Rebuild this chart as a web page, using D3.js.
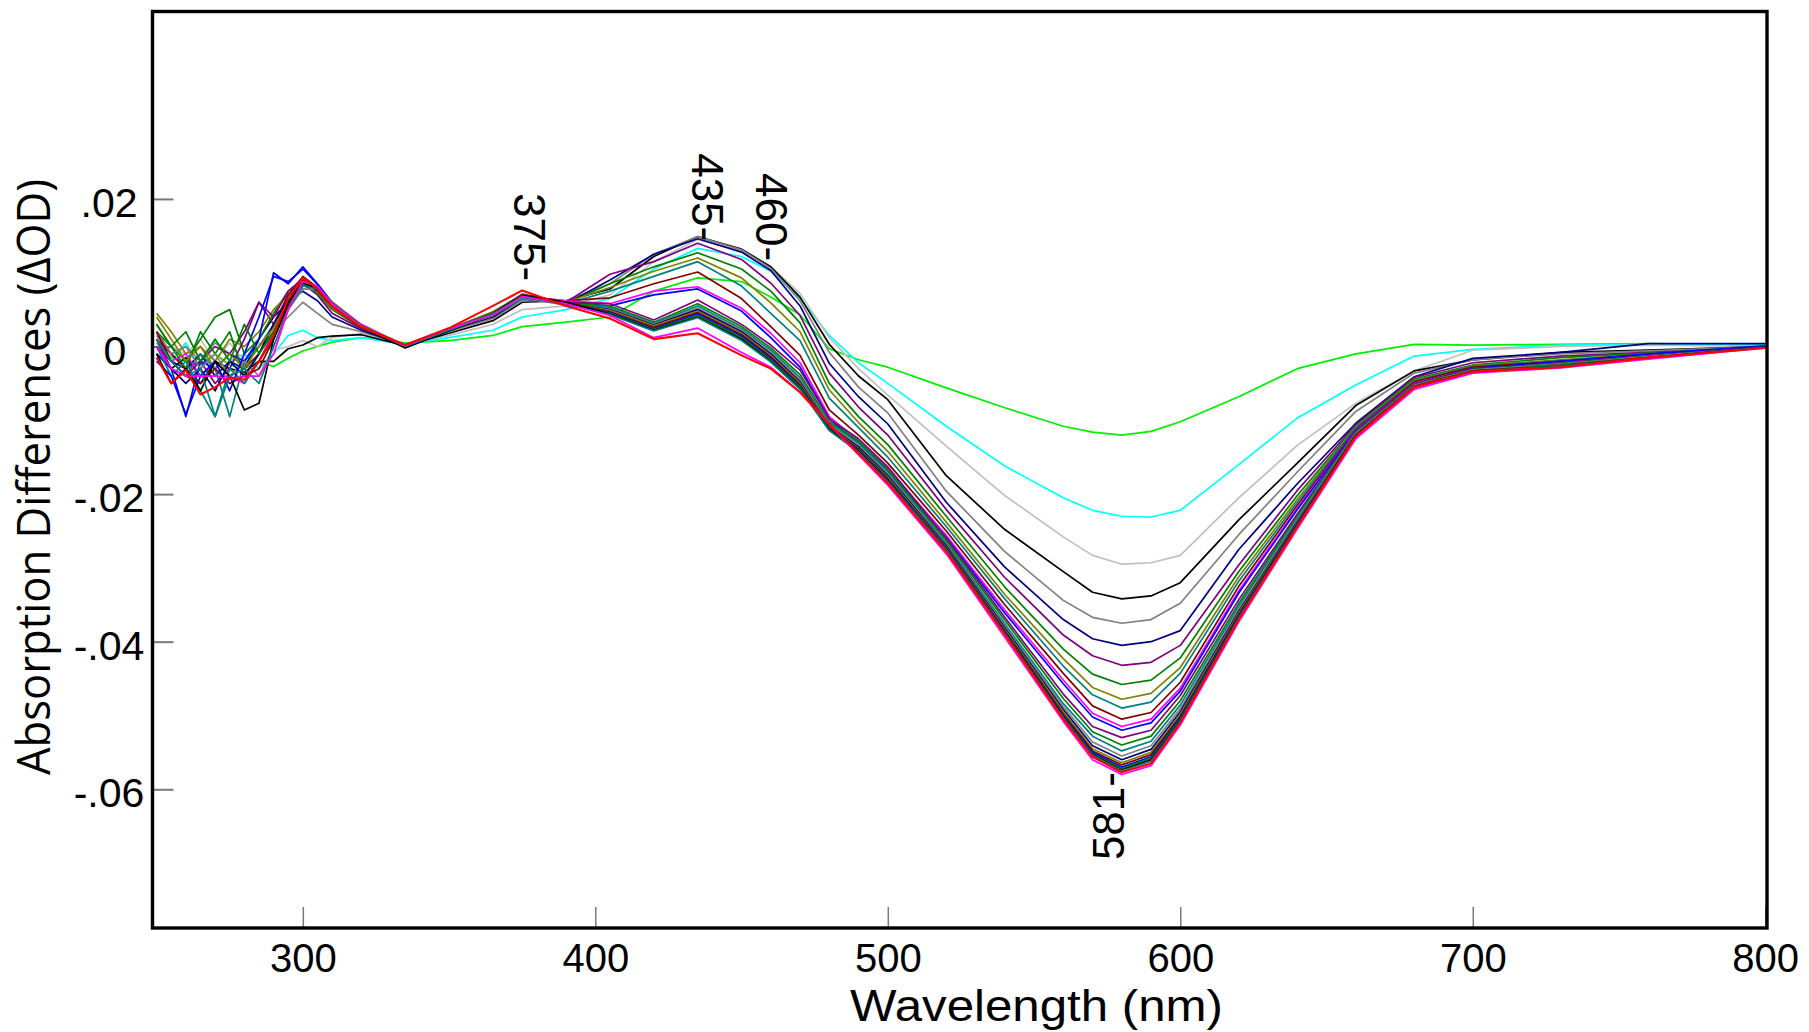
<!DOCTYPE html>
<html><head><meta charset="utf-8">
<script src="https://cdn.jsdelivr.net/npm/d3@7"></script>
<style>html,body{margin:0;padding:0;background:#fff;} svg{display:block;}</style>
</head><body><svg id="chart" width="1809" height="1032"></svg>
<script>
// Wavelength grid (nm)
const wavelengths = [250,255,260,265,270,275,280,285,290,295,300,305,310,320,335,350,365,375,390,405,420,435,450,460,470,480,490,500,520,540,560,570,580,590,600,620,640,660,680,700,730,760,800];

// Absorption differences (ΔOD), one array per spectrum
const s01 = [0.0005,-0.0015,-0.002,-0.0025,-0.001,-0.0025,-0.003,-0.002,-0.0027,-0.0016,-0.0006, 0,0.0006,0.0012,0.0005,0.0008,0.0015,0.0027,0.0033,0.004,0.0075,0.0093,0.0088,0.0067,0.0043,-0.0003,-0.0018,-0.0028, -0.0056,-0.0083,-0.0108,-0.0116,-0.012,-0.0115,-0.0102,-0.0068,-0.003,-0.001,0.0003,0.0002, 0.0003,0.0004,0.0002];
const s02 = [0.001,-0.002,0.0005,-0.003,0.001,-0.002,-0.001,-0.003,-0.001,0.0015,0.0022, 0.0012,0.0008,0.0012,0.0003,0.0012,0.0022,0.004,0.005,0.0065,0.0105,0.0133,0.0122,0.0102,0.0065,0.0015,-0.0022,-0.005, -0.0108,-0.0162,-0.0205,-0.0222,-0.023,-0.0231,-0.0222,-0.016,-0.0097,-0.0052,-0.0013,-0.0004, 0.0002,0.0003,0.0002];
const s03 = [0.002,0,-0.001,0.001,-0.002,0.0005,-0.002,0.0005,-0.0005,0,0.0008, 0,0.0012,0.0018,0.0003,0.0015,0.003,0.005,0.0055,0.007,0.0115,0.0145,0.013,0.0108,0.0072,0.0012,-0.003,-0.0066, -0.0135,-0.0202,-0.0258,-0.0283,-0.0295,-0.0293,-0.0283,-0.0205,-0.0134,-0.0077,-0.0033,-0.0005, 0,0.0002,0];
const s04 = [-0.001,-0.003,-0.0015,-0.004,-0.002,-0.003,-0.0035,-0.002,-0.002,-0.0003,0.0002, 0.0012,0.0014,0.0016,0.0001,0.0018,0.0035,0.006,0.0062,0.0078,0.0122,0.0149,0.0132,0.0108,0.0067,0.0003,-0.004,-0.0072, -0.0175,-0.0248,-0.0305,-0.0333,-0.0342,-0.0338,-0.032,-0.0235,-0.0158,-0.008,-0.0033,-0.0018, -0.0008,-0.0005,0];
const s05 = [0.0015,-0.001,0,-0.002,0.0005,-0.001,-0.0025,0,0.002,0.004,0.006, 0.0045,0.003,0.002,0.0002,0.002,0.0038,0.0062,0.0062,0.0085,0.0125,0.0149,0.0131,0.0106,0.0062,-0.0008,-0.0055,-0.009, -0.0196,-0.0278,-0.0344,-0.0367,-0.0375,-0.037,-0.0348,-0.0255,-0.017,-0.0088,-0.0036,-0.0018, -0.001,-0.0006,0];
const s06 = [0,-0.002,-0.003,-0.001,-0.004,-0.002,-0.003,0.001,0.004,0.006,0.0075, 0.0062,0.004,0.0022,0.0001,0.0022,0.004,0.0065,0.0058,0.009,0.0125,0.0146,0.0128,0.0103,0.0055,-0.0023,-0.0068,-0.0105, -0.0211,-0.0299,-0.037,-0.0396,-0.0405,-0.04,-0.0385,-0.0275,-0.0186,-0.0104,-0.0041,-0.0016, -0.0008,0.0004,0.0004];
const s07 = [0.001,-0.001,-0.003,-0.002,0,-0.001,0.002,0.006,0.003,0.006,0.0085, 0.007,0.0045,0.0024,0.0002,0.0024,0.0045,0.0068,0.006,0.0098,0.0115,0.014,0.0118,0.0086,0.0042,-0.0036,-0.0082,-0.012, -0.0221,-0.0313,-0.0391,-0.0419,-0.0432,-0.0428,-0.0405,-0.0296,-0.0195,-0.0106,-0.0042,-0.0022, -0.0013,-0.0008,-0.0002];
const s08 = [0.002,0,-0.002,0.001,0.004,0.005,-0.001,0.001,0.0045,0.0075,0.009, 0.0072,0.005,0.0025,0.0002,0.0023,0.0045,0.0068,0.0058,0.0085,0.0108,0.0127,0.0105,0.0075,0.0032,-0.005,-0.0095,-0.0133, -0.023,-0.0326,-0.041,-0.0444,-0.0458,-0.0452,-0.0422,-0.0305,-0.0202,-0.0108,-0.0044,-0.0025, -0.0015,-0.0009,-0.0001];
const s09 = [0.0045,0.002,-0.001,0,-0.002,0.001,0,0.002,0.005,0.007,0.0088, 0.0075,0.0052,0.0026,0.0002,0.0022,0.0042,0.0066,0.006,0.008,0.0102,0.012,0.0093,0.0059,0.002,-0.0059,-0.0103,-0.0142, -0.0238,-0.0336,-0.0423,-0.0462,-0.0478,-0.047,-0.0435,-0.0312,-0.0207,-0.0109,-0.0046,-0.0026, -0.0018,-0.001,-0.0001];
const s10 = [0,-0.002,-0.004,-0.001,-0.003,-0.0095,-0.002,0,0.003,0.0065,0.0085, 0.0078,0.0055,0.0027,0.0001,0.0023,0.0043,0.0065,0.0058,0.0075,0.0095,0.0115,0.0082,0.0045,0.0008,-0.007,-0.011,-0.015, -0.0244,-0.0342,-0.0433,-0.0472,-0.049,-0.0482,-0.0443,-0.0318,-0.0211,-0.011,-0.0047,-0.0027, -0.0019,-0.0011,-0.0001];
const s11 = [0.002,-0.001,-0.003,-0.005,-0.002,-0.004,-0.003,-0.001,0.003,0.007,0.0095, 0.008,0.0055,0.0027,0.0002,0.0024,0.0044,0.0068,0.0062,0.0066,0.0085,0.0101,0.0065,0.0027,-0.0012,-0.0086,-0.012,-0.0158, -0.025,-0.035,-0.0443,-0.0487,-0.0505,-0.0496,-0.0455,-0.0325,-0.0215,-0.0112,-0.0048,-0.0028, -0.002,-0.0012,-0.0001];
const s12 = [0.001,-0.002,-0.001,-0.004,-0.004,-0.004,-0.005,-0.002,0.002,0.006,0.0088, 0.008,0.006,0.003,0.0001,0.0024,0.0045,0.0068,0.0062,0.0058,0.0075,0.0081,0.0052,0.0018,-0.0022,-0.0095,-0.0128,-0.0165, -0.0256,-0.0357,-0.0452,-0.0497,-0.0515,-0.0505,-0.0463,-0.0331,-0.0219,-0.0113,-0.005,-0.003, -0.0022,-0.0012,-0.0001];
const s13 = [-0.001,-0.003,-0.0095,-0.002,-0.003,-0.001,-0.002,0.001,0.01,0.0085,0.0108, 0.0085,0.006,0.0028,0,0.0022,0.0044,0.0067,0.006,0.0055,0.007,0.0078,0.0048,0.0012,-0.0028,-0.0098,-0.0131,-0.0168, -0.0259,-0.0361,-0.0457,-0.0502,-0.052,-0.051,-0.0467,-0.0334,-0.0221,-0.0114,-0.0051,-0.003, -0.002,-0.001,0.0001];
const s14 = [0.001,-0.003,-0.004,-0.002,-0.005,-0.003,0.001,0.006,0.004,0.0075,0.0092, 0.0078,0.0055,0.0027,0.0002,0.0024,0.0046,0.007,0.006,0.0058,0.0036,0.0063,0.003,0.0002,-0.0032,-0.0098,-0.0125,-0.0163, -0.026,-0.0367,-0.0471,-0.0515,-0.053,-0.052,-0.0473,-0.0343,-0.0227,-0.0115,-0.0051,-0.0031, -0.0022,-0.0013,0];
const s15 = [0.003,0,-0.003,0.002,-0.001,0.002,-0.004,-0.001,0.002,0.006,0.0085, 0.0082,0.0058,0.0028,0.0001,0.0023,0.0047,0.007,0.0058,0.0055,0.0033,0.0058,0.0027,-0.0002,-0.0038,-0.0102,-0.0128,-0.0167, -0.0263,-0.0371,-0.0477,-0.0522,-0.054,-0.0528,-0.048,-0.0348,-0.023,-0.0116,-0.0052,-0.0031, -0.0023,-0.0013,-0.0001];
const s16 = [0,-0.004,-0.002,-0.006,-0.0095,-0.003,-0.005,-0.002,0.001,0.0055,0.0082, 0.0079,0.0057,0.0027,0,0.0021,0.0045,0.0068,0.0057,0.0053,0.0031,0.0055,0.0024,-0.0005,-0.0042,-0.0104,-0.0131,-0.017, -0.0266,-0.0376,-0.0484,-0.0528,-0.0548,-0.0535,-0.0486,-0.0352,-0.0232,-0.0117,-0.0053,-0.0032, -0.0024,-0.0014,-0.0001];
const s17 = [0.002,-0.001,0,-0.003,-0.001,-0.004,-0.002,-0.004,0,0.005,0.0078, 0.0077,0.0056,0.0026,0.0001,0.0022,0.0044,0.0066,0.0056,0.0051,0.003,0.0052,0.0022,-0.0008,-0.0045,-0.0106,-0.0134,-0.0173, -0.0268,-0.0379,-0.0488,-0.0536,-0.0555,-0.0541,-0.0491,-0.0356,-0.0235,-0.0118,-0.0053,-0.0032, -0.0024,-0.0014,-0.0001];
const s18 = [0,-0.003,-0.005,-0.003,-0.006,-0.002,-0.004,-0.001,0.003,0.0065,0.0088, 0.0076,0.0054,0.0025,0,0.0023,0.0045,0.007,0.0058,0.005,0.0029,0.005,0.002,-0.001,-0.0048,-0.0108,-0.0136,-0.0175, -0.027,-0.0381,-0.0492,-0.0541,-0.056,-0.0546,-0.0495,-0.0359,-0.0237,-0.0119,-0.0054,-0.0033, -0.0025,-0.0015,-0.0001];
const s19 = [0.004,0.001,-0.002,0,-0.003,-0.001,-0.003,0,0.0025,0.006,0.0086, 0.0082,0.006,0.0028,0.0002,0.0024,0.0046,0.0069,0.0059,0.0049,0.0028,0.0048,0.0018,-0.0012,-0.005,-0.0109,-0.0138,-0.0177, -0.0272,-0.0383,-0.0495,-0.0545,-0.0564,-0.055,-0.0498,-0.0361,-0.0238,-0.0119,-0.0054,-0.0033, -0.0025,-0.0015,-0.0001];
const s20 = [0.002,-0.002,-0.004,-0.005,-0.003,-0.005,-0.004,-0.003,0.001,0.0055,0.009, 0.008,0.0057,0.0027,0.0001,0.0023,0.0045,0.0071,0.006,0.0047,0.0026,0.0046,0.0016,-0.0014,-0.0052,-0.011,-0.0139,-0.0179, -0.0273,-0.0385,-0.0498,-0.0548,-0.0567,-0.0553,-0.0501,-0.0363,-0.0239,-0.012,-0.0054,-0.0033, -0.0026,-0.0015,-0.0001];
const s21 = [-0.002,-0.004,-0.0092,-0.004,-0.002,-0.006,-0.001,0.004,0.0095,0.0088,0.0105, 0.0084,0.0058,0.0026,0,0.0022,0.0044,0.0068,0.0057,0.0046,0.0024,0.0044,0.0014,-0.0016,-0.0054,-0.0111,-0.014,-0.018, -0.0274,-0.0386,-0.05,-0.055,-0.057,-0.0556,-0.0503,-0.0365,-0.024,-0.0121,-0.0055,-0.0034, -0.0026,-0.0016,0];
const s22 = [0.003,0,0.002,-0.002,0.001,-0.002,0.003,-0.001,0.002,0.0058,0.0084, 0.0081,0.0059,0.0028,0.0001,0.0023,0.0045,0.007,0.0058,0.0045,0.0023,0.0042,0.0012,-0.0018,-0.0055,-0.0112,-0.0141,-0.0181, -0.0275,-0.0387,-0.0501,-0.0552,-0.0572,-0.0558,-0.0505,-0.0366,-0.0241,-0.0121,-0.0055,-0.0034, -0.0026,-0.0016,-0.0001];
const s23 = [-0.001,-0.005,-0.003,-0.006,-0.002,-0.004,-0.0086,-0.0077,0.001,0.006,0.0086, 0.0079,0.0056,0.0026,-0.0002,0.0021,0.0044,0.0069,0.006,0.0044,0.0022,0.004,0.001,-0.002,-0.0057,-0.0113,-0.0142,-0.0182, -0.0276,-0.0388,-0.0502,-0.0553,-0.0574,-0.056,-0.0507,-0.0367,-0.0242,-0.0121,-0.0055,-0.0034, -0.0027,-0.0016,-0.0001];
const s24 = [0.001,-0.002,-0.004,-0.003,-0.0095,-0.004,-0.003,-0.005,0,0.005,0.0082, 0.0078,0.0056,0.0027,0,0.0022,0.0044,0.0067,0.0057,0.0043,0.0021,0.0039,0.0008,-0.0021,-0.0058,-0.0114,-0.0143,-0.0183, -0.0276,-0.0389,-0.0503,-0.0554,-0.0575,-0.0562,-0.0508,-0.0368,-0.0243,-0.0122,-0.0055,-0.0034, -0.0027,-0.0016,-0.0001];
const s25 = [0,-0.003,-0.004,-0.004,-0.004,-0.0045,-0.004,-0.004,-0.001,0.005,0.0088, 0.0082,0.0058,0.0027,0.0001,0.0024,0.0043,0.0068,0.0058,0.0042,0.0012,0.0025,-0.0008,-0.0028,-0.0062,-0.0106,-0.0147,-0.0188, -0.0281,-0.0394,-0.0508,-0.056,-0.058,-0.0568,-0.0513,-0.0373,-0.0247,-0.0125,-0.0058,-0.0036, -0.0029,-0.0017,-0.0002];
const s26 = [-0.0015,-0.005,-0.0032,-0.0065,-0.0055,-0.0042,-0.0045,-0.002,0.0015,0.0065,0.0093, 0.0078,0.0054,0.0026,0.0002,0.0025,0.0055,0.0076,0.0055,0.0038,0.001,0.0018,-0.0012,-0.003,-0.0062,-0.0105,-0.0145,-0.0185, -0.0278,-0.039,-0.0505,-0.0556,-0.0577,-0.0565,-0.051,-0.037,-0.0244,-0.0122,-0.0055,-0.0034, -0.0028,-0.0015,-0.0002];

const seriesValues = [s01,s02,s03,s04,s05,s06,s07,s08,s09,s10,s11,s12,s13,s14,s15,s16,s17,s18,s19,s20,s21,s22,s23,s24,s25,s26];
const seriesColors = ["#00ee00","#00ffff","#c0c0c0","#000000","#808080","#000080","#800080","#008000","#808000","#008080","#800000","#ff00ff","#0000ff",
                      "#800080","#008000","#008080","#808080","#000080","#808000","#800000","#0000ff","#008000","#000000","#008080","#ff00ff","#ff0000"];

const xTickValues = [300,400,500,600,700,800];
const yTickValues = [0.02,0,-0.02,-0.04,-0.06];
const yTickLabels = [".02","0","-.02","-.04","-.06"];

const annotationLabels = ["375-","435-","460-","581-"];
const annotationWavelengths = [376.3,437.2,459.0,576.6];
const annotationValues = [0.0208,0.0262,0.0235,-0.0696];
const annotationUpward = [false,false,false,true];

// ---------- drawing ----------
const svg = d3.select("#chart");
const P = {left:152.5, right:1767, top:11.5, bottom:928};
const x = d3.scaleLinear().domain([248.6, 800.6]).range([P.left, P.right]);
const y = d3.scaleLinear().domain([-0.0788, 0.0454]).range([P.bottom, P.top]);

svg.append("rect").attr("width",1809).attr("height",1032).attr("fill","#fff");

// axes (ticks pointing inward)
const yAxis = d3.axisLeft(y).tickValues(yTickValues).tickSize(-21).tickPadding(0)
  .tickFormat((d,i)=>yTickLabels[i]);
const gy = svg.append("g").attr("transform",`translate(${P.left},0)`).call(yAxis);
gy.select(".domain").remove();
gy.selectAll(".tick line").attr("stroke","#7a7a7a").attr("stroke-width",2);
const yNudge = {"0": 6};
gy.selectAll(".tick text")
  .attr("font-family","'Liberation Sans', Arial, sans-serif").attr("font-size",41)
  .attr("fill","#000").attr("text-anchor","middle")
  .attr("x", d=>{const lbl = yTickLabels[yTickValues.indexOf(d)]; return -43.5 + (yNudge[lbl]||0);})
  .attr("dy","0.43em");

const xAxis = d3.axisBottom(x).tickValues(xTickValues).tickSize(-21).tickPadding(16).tickFormat(d3.format("d"));
const gx = svg.append("g").attr("transform",`translate(0,${P.bottom})`).call(xAxis);
gx.select(".domain").remove();
gx.selectAll(".tick line").attr("stroke","#7a7a7a").attr("stroke-width",1.5);
gx.selectAll(".tick text").attr("font-family","'Liberation Sans', Arial, sans-serif")
  .attr("font-size",40).attr("fill","#000");

// spectra
const line = d3.line().x((d,i)=>x(wavelengths[i])).y(d=>y(d)).curve(d3.curveLinear);
const gl = svg.append("g").attr("fill","none").attr("stroke-linejoin","round");
seriesValues.forEach((vals,k)=>{
  gl.append("path").attr("d", line(vals))
    .attr("stroke", seriesColors[k])
    .attr("stroke-width", k === seriesValues.length-1 ? 2.1 : 1.7);
});

// frame
svg.append("rect").attr("x",P.left).attr("y",P.top)
  .attr("width",P.right-P.left).attr("height",P.bottom-P.top)
  .attr("fill","none").attr("stroke","#000").attr("stroke-width",3.4);

// annotations
const annFs = 44;
annotationLabels.forEach((lbl,i)=>{
  const up = annotationUpward[i];
  const bx = x(annotationWavelengths[i]) + (up ? 1 : -1) * 0.27 * annFs;
  svg.append("text")
    .attr("transform",`translate(${bx},${y(annotationValues[i])}) rotate(${up ? -90 : 90})`)
    .attr("font-family","'Liberation Sans', Arial, sans-serif").attr("font-size",annFs)
    .attr("fill","#000").attr("text-anchor","start").text(lbl);
});

// axis titles
svg.append("text").attr("x",1036.5).attr("y",1021).attr("text-anchor","middle")
  .attr("font-family","'Liberation Sans', Arial, sans-serif").attr("font-size",44)
  .attr("textLength",373).attr("lengthAdjust","spacingAndGlyphs")
  .attr("fill","#000").text("Wavelength (nm)");
svg.append("text").attr("transform","translate(50,477) rotate(-90)").attr("text-anchor","middle")
  .attr("font-family","'Open Sans', 'Noto Sans', sans-serif").attr("font-size",45)
  .attr("textLength",596).attr("lengthAdjust","spacingAndGlyphs")
  .attr("fill","#000").text("Absorption Differences (ΔOD)");
</script>
</body></html>
